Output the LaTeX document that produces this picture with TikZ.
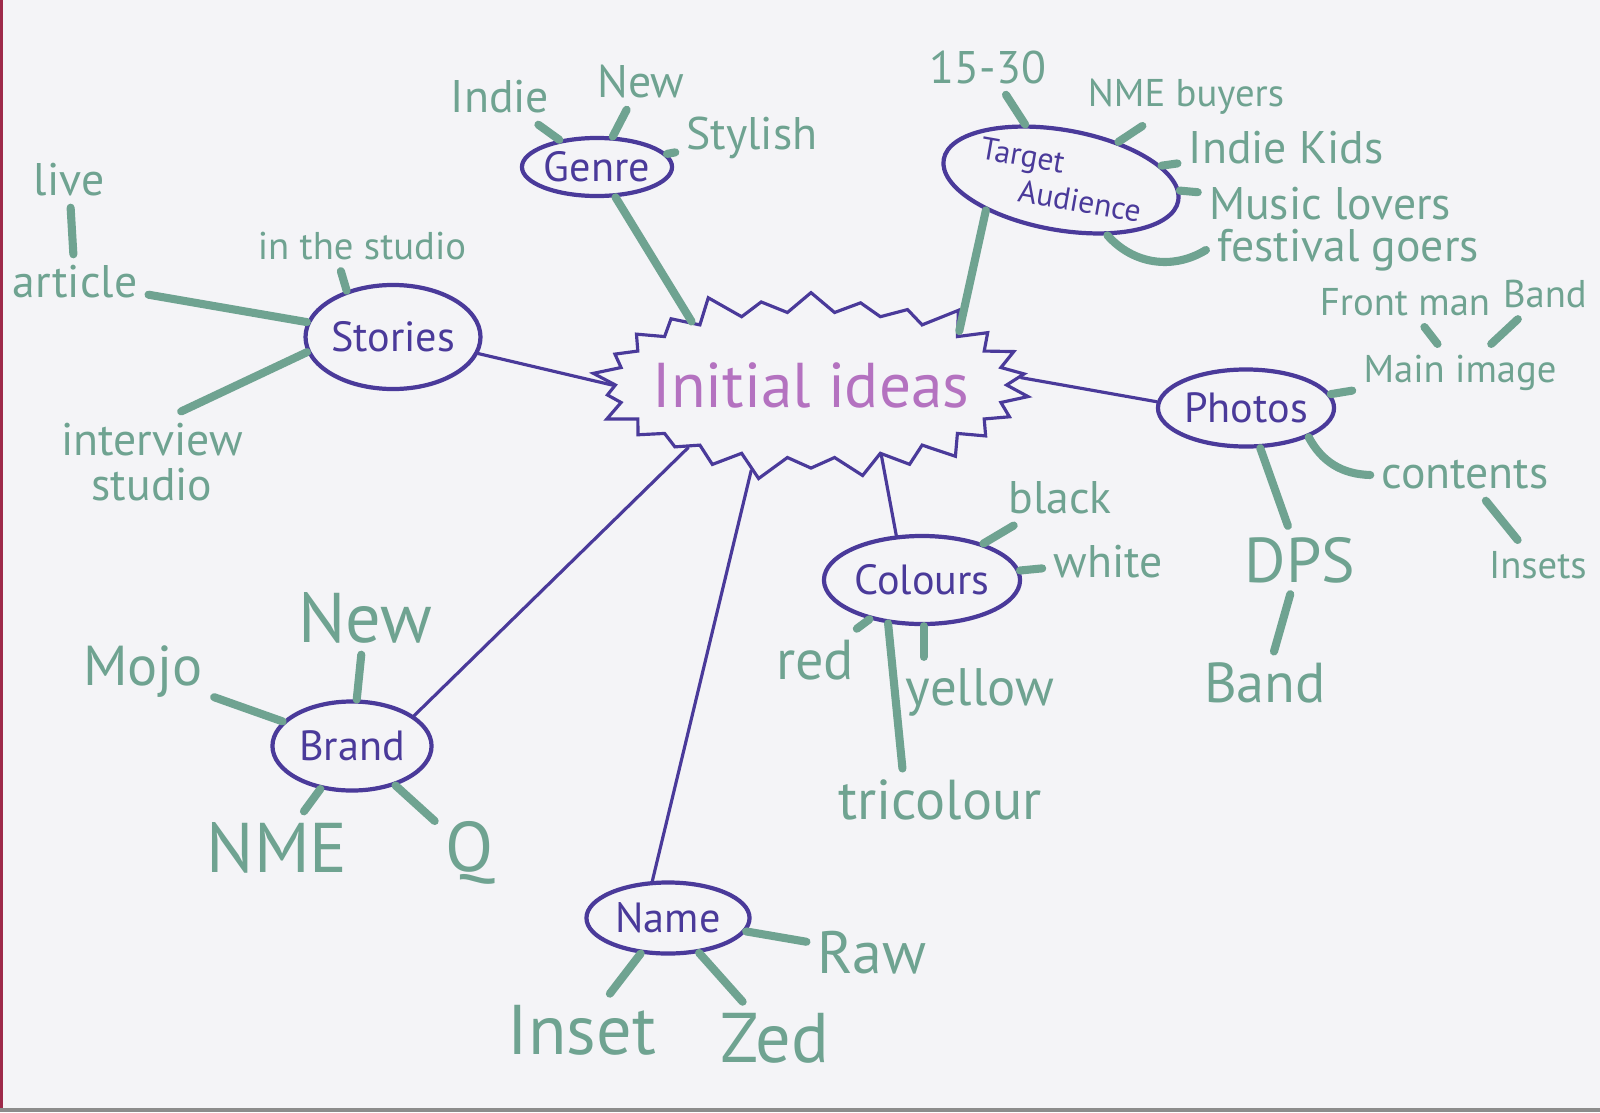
\documentclass[tikz,border=0pt]{standalone}
\usepackage{fontspec}
\setmainfont{PT Sans}
\usetikzlibrary{shapes.geometric,shapes.symbols,positioning}

\begin{document}
\begin{tikzpicture}[
    x=0.01cm, y=-0.01cm,
    topic/.style={draw=ink, ellipse, line width=1.2pt, text=ink, inner sep=0pt,
                  font=\fontsize{12}{12}\selectfont},
    burst/.style={starburst, draw=ink, line width=0.9pt, starburst points=26,
                  starburst point height=0.27cm, inner sep=0pt},
    note/.style={text=leaf, inner sep=3pt, font=\fontsize{13}{13}\selectfont},
    notesmall/.style={note, font=\fontsize{11}{11}\selectfont},
    notebig/.style={note, font=\fontsize{20}{20}\selectfont},
    twig/.style={draw=leaf, line width=2.3pt, line cap=round},
    branch/.style={draw=ink, line width=0.9pt, line cap=round},
  ]
  \definecolor{leaf}{HTML}{6FA391}
  \definecolor{ink}{HTML}{4A3A9A}
  \definecolor{pinkink}{HTML}{B472C0}
  \definecolor{paper}{HTML}{F4F4F7}
  \definecolor{edge}{HTML}{9E2A4A}

  % ========================= HOJA ============================
  \useasboundingbox (0,0) rectangle (1600,1112);
  \fill[paper] (0,0) rectangle (1600,1112);
  \fill[edge] (0,0) rectangle (3,1112);
  \fill[black!45] (0,1108) rectangle (1600,1112);

  % ========================= CENTRO ==========================
  \node[burst, minimum width=4.45cm, minimum height=2.0cm] (ideas) at (811,385) {};
  \node[text=pinkink, font=\fontsize{18}{18}\selectfont] (ideastext) at (ideas.center)
    {Initial ideas};

  % ========================= TEMAS ===========================
  \node[topic, minimum width=1.43cm, minimum height=0.58cm] (genre) at (597,167) {Genre};
  \node[topic, minimum width=1.74cm, minimum height=1.04cm] (stories) at (393,337) {Stories};
  \node[topic, minimum width=2.04cm, minimum height=1.0cm, align=left, rotate=-10,
        font=\fontsize{9}{10}\selectfont] (target) at (1061,180)
    {Target\\\hspace*{1.4em}Audience};
  \node[topic, minimum width=1.76cm, minimum height=0.77cm] (photos) at (1246,408) {Photos};
  \node[topic, minimum width=1.96cm, minimum height=0.88cm] (colours) at (922,580) {Colours};
  \node[topic, minimum width=1.59cm, minimum height=0.89cm] (brand) at (352,746) {Brand};
  \node[topic, minimum width=1.63cm, minimum height=0.71cm] (name) at (668,918) {Name};

  % ========================= HOJAS ===========================
  % Genre
  \node[note] (indie) at (500,97) {Indie};
  \node[note] (genrenew) at (641,82) {New};
  \node[note] (stylish) at (752,138) {Stylish};
  % Stories
  \node[note] (live) at (69,180) {live};
  \node[note] (article) at (75,282) {article};
  \node[notesmall] (studio) at (362,246) {in the studio};
  \node[note, align=center] (interview) at (152,462) {interview\\studio};
  % Target audience
  \node[note] (age) at (988,67) {15-30};
  \node[notesmall] (buyers) at (1186,97) {NME buyers};
  \node[note] (kids) at (1286,148) {Indie Kids};
  \node[note] (lovers) at (1330,204) {Music lovers};
  \node[note] (festival) at (1348,250) {festival goers};
  % Photos
  \node[notesmall] (frontman) at (1405,302) {Front man};
  \node[notesmall, anchor=east] (bandtop) at (1598,294) {Band};
  \node[notesmall] (mainimage) at (1460,373) {Main image};
  \node[note] (contents) at (1465,475) {contents};
  \node[notesmall, anchor=east] (insets) at (1598,565) {Insets};
  \node[note, font=\fontsize{18}{18}\selectfont] (dps) at (1300,560) {DPS};
  \node[note, font=\fontsize{16}{16}\selectfont] (band) at (1265,683) {Band};
  % Colours
  \node[note] (black) at (1060,498) {black};
  \node[note] (white) at (1108,562) {white};
  \node[note, font=\fontsize{16}{16}\selectfont] (red) at (815,660) {red};
  \node[note, font=\fontsize{15}{15}\selectfont] (yellow) at (980,692) {yellow};
  \node[note, font=\fontsize{16}{16}\selectfont] (tricolour) at (940,800) {tricolour};
  % Brand
  \node[notebig] (brandnew) at (365,618) {New};
  \node[note, font=\fontsize{16}{16}\selectfont] (mojo) at (143,672) {Mojo};
  \node[notebig] (nme) at (277,848) {NME};
  \node[notebig] (q) at (470,853) {Q};
  % Name
  \node[note, font=\fontsize{17}{17}\selectfont] (raw) at (872,953) {Raw};
  \node[notebig] (inset) at (582,1030) {Inset};
  \node[notebig] (zed) at (775,1038) {Zed};

  % ======================== RAMAS ============================
  \draw[twig] (genre) -- (ideas.152);
  \draw[twig] (target.212) -- (ideas.20);
  \draw[branch] (stories.-11) -- (ideas.180);
  \draw[branch] (ideas.2) -- (photos.176);
  \draw[branch] (ideas.-45) -- (colours.120);
  \draw[branch] (ideas.207) -- (brand.26);
  \draw[branch] (ideas.235) -- (name.113);

  % ======================== RAMITAS ==========================
  \draw[twig] (genre) -- (indie);
  \draw[twig] (genre) -- (genrenew);
  \draw[twig] (genre) -- (stylish);
  \draw[twig] (live) -- (article);
  \draw[twig] (stories) -- (article);
  \draw[twig] (stories.135) -- (studio.230);
  \draw[twig] (stories.190) -- (interview.60);
  \draw[twig] (target) -- (age);
  \draw[twig] (target) -- (buyers);
  \draw[twig] (target) -- (kids);
  \draw[twig] (target) -- (lovers);
  \draw[twig] (target.-40) to[bend right=40] (festival.west);
  \draw[twig] (frontman) -- (mainimage);
  \draw[twig] (mainimage) -- (bandtop);
  \draw[twig] (photos) -- (mainimage);
  \draw[twig] (photos.-25) to[bend right=30] (contents.west);
  \draw[twig] (contents) -- (insets);
  \draw[twig] (photos) -- (dps);
  \draw[twig] (dps) -- (band);
  \draw[twig] (colours) -- (black);
  \draw[twig] (colours) -- (white);
  \draw[twig] (colours) -- (red);
  \draw[twig] (colours.-88) -- (colours.-88 |- yellow.north);
  \draw[twig] (colours.-128) -- (tricolour.140);
  \draw[twig] (brand) -- (brandnew);
  \draw[twig] (brand) -- (mojo);
  \draw[twig] (brand) -- (nme);
  \draw[twig] (brand) -- (q);
  \draw[twig] (name) -- (raw);
  \draw[twig] (name) -- (inset);
  \draw[twig] (name) -- (zed);
\end{tikzpicture}
\end{document}
